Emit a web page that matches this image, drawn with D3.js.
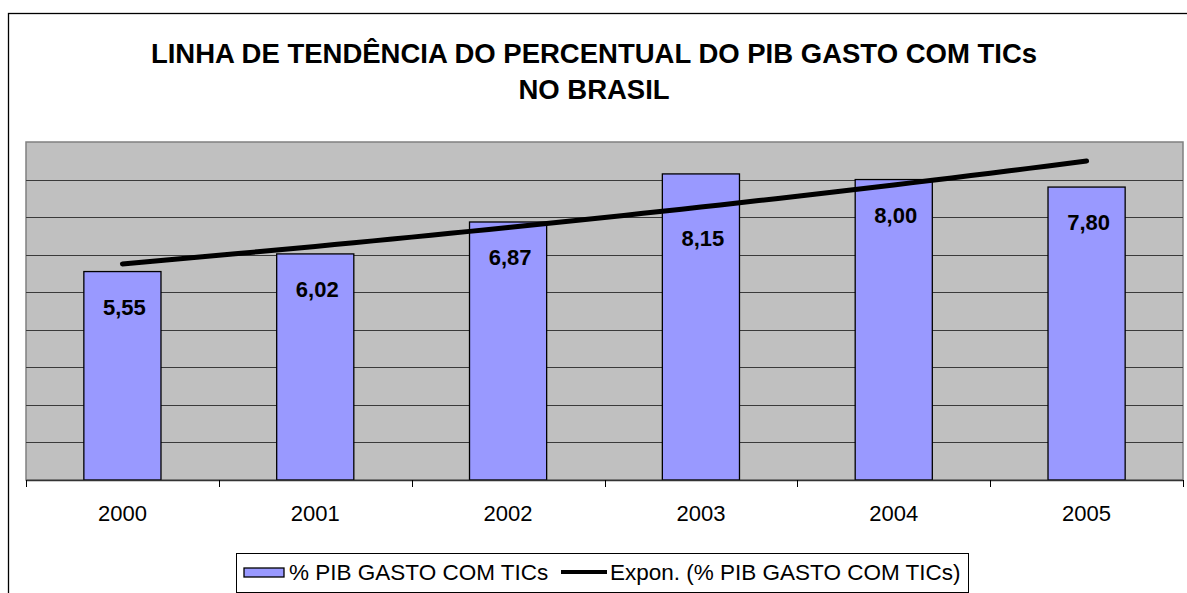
<!DOCTYPE html>
<html>
<head>
<meta charset="utf-8">
<script src="https://cdn.jsdelivr.net/npm/d3@7"></script>
<style>
  body { margin: 0; background: #fff; }
  svg { display: block; font-family: "Liberation Sans", Arial, sans-serif; }
</style>
</head>
<body>
<div id="chart"></div>
<script>
const years = ['2000', '2001', '2002', '2003', '2004', '2005'];
const values = [5.55, 6.02, 6.87, 8.15, 8.00, 7.80];
const valueLabels = ['5,55', '6,02', '6,87', '8,15', '8,00', '7,80'];
const titleLines = ['LINHA DE TENDÊNCIA DO PERCENTUAL DO PIB GASTO COM TICs', 'NO BRASIL'];
const seriesName = '% PIB GASTO COM TICs';
const trendName = 'Expon. (% PIB GASTO COM TICs)';

const width = 1187, height = 593;
const plot = { left: 26, top: 142, right: 1183, bottom: 480 };

const svg = d3.select('#chart').append('svg')
    .attr('width', width)
    .attr('height', height);

// outer chart border (runs off the right / bottom edge)
svg.append('rect')
    .attr('x', 8.5).attr('y', 13.5)
    .attr('width', 1200).attr('height', 700)
    .attr('fill', 'none')
    .attr('stroke', '#000')
    .attr('stroke-width', 1.3);

// titulo
svg.append('g').selectAll('text')
    .data(titleLines)
    .enter().append('text')
    .attr('x', 594)
    .attr('y', (d, i) => 63 + i * 36)
    .attr('text-anchor', 'middle')
    .style('font-weight', 'bold')
    .style('font-size', '27.5px')
    .text(d => d);

const x = d3.scaleBand()
    .domain(years)
    .range([plot.left, plot.right])
    .paddingInner(0.6)
    .paddingOuter(0.3);

const y = d3.scaleLinear()
    .domain([0, 9])
    .range([plot.bottom, plot.top]);

// area do grafico
svg.append('rect')
    .attr('x', plot.left).attr('y', plot.top)
    .attr('width', plot.right - plot.left)
    .attr('height', plot.bottom - plot.top)
    .attr('fill', '#c0c0c0')
    .attr('stroke', '#808080')
    .attr('stroke-width', 1.5);

svg.append('g')
    .selectAll('line')
    .data(y.ticks(9).filter(t => t > 0 && t < 9))
    .enter().append('line')
    .attr('x1', plot.left).attr('x2', plot.right)
    .attr('y1', d => Math.round(y(d)) + 0.5)
    .attr('y2', d => Math.round(y(d)) + 0.5)
    .attr('stroke', '#3a3a3a')
    .attr('stroke-width', 1);

// barras
svg.append('g')
    .selectAll('rect')
    .data(values)
    .enter().append('rect')
    .attr('x', (d, i) => x(years[i]))
    .attr('y', d => y(d))
    .attr('width', x.bandwidth())
    .attr('height', d => y(0) - y(d))
    .attr('fill', '#9999ff')
    .attr('stroke', '#000')
    .attr('stroke-width', 1.3);

// eixo x
const boundaries = d3.range(years.length + 1).map(i => plot.left + i * (plot.right - plot.left) / years.length);
svg.append('line')
    .attr('x1', plot.left).attr('x2', plot.right)
    .attr('y1', plot.bottom + 0.5).attr('y2', plot.bottom + 0.5)
    .attr('stroke', '#333').attr('stroke-width', 1.5);
svg.append('g')
    .selectAll('line')
    .data(boundaries)
    .enter().append('line')
    .attr('x1', d => Math.round(d) + 0.5).attr('x2', d => Math.round(d) + 0.5)
    .attr('y1', plot.bottom).attr('y2', plot.bottom + 7)
    .attr('stroke', '#000');
svg.append('g')
    .selectAll('text')
    .data(years)
    .enter().append('text')
    .attr('x', d => x(d) + x.bandwidth() / 2)
    .attr('y', 521)
    .attr('text-anchor', 'middle')
    .style('font-size', '22px')
    .text(d => d);

// linha de tendencia exponencial (ajuste por minimos quadrados em ln y)
const xs = values.map((d, i) => i + 1);
const lns = values.map(v => Math.log(v));
const mx = d3.mean(xs), ml = d3.mean(lns);
const b = d3.sum(xs, (v, i) => (v - mx) * (lns[i] - ml)) / d3.sum(xs, v => (v - mx) * (v - mx));
const a = Math.exp(ml - b * mx);
const xi = d3.scaleLinear().domain([1, years.length])
    .range([x(years[0]) + x.bandwidth() / 2, x(years[years.length - 1]) + x.bandwidth() / 2]);
const trend = d3.range(1, years.length + 0.001, 0.1).map(t => [xi(t), y(a * Math.exp(b * t))]);
svg.append('path')
    .datum(trend)
    .attr('d', d3.line())
    .attr('fill', 'none')
    .attr('stroke', '#000')
    .attr('stroke-width', 5)
    .attr('stroke-linecap', 'round');

// rotulos de dados
svg.append('g')
    .selectAll('text')
    .data(values)
    .enter().append('text')
    .attr('x', (d, i) => x(years[i]) + x.bandwidth() / 2 + 2)
    .attr('y', (d, i) => y(d) + (years[i] === '2003' ? 72 : 43))
    .attr('text-anchor', 'middle')
    .style('font-weight', 'bold')
    .style('font-size', '22px')
    .text((d, i) => valueLabels[i]);

// legenda
const legend = svg.append('g');
legend.append('rect')
    .attr('x', 236.5).attr('y', 553.5)
    .attr('width', 732).attr('height', 39)
    .attr('fill', '#fff')
    .attr('stroke', '#000');
legend.append('rect')
    .attr('x', 244).attr('y', 568)
    .attr('width', 40).attr('height', 9)
    .attr('fill', '#9999ff')
    .attr('stroke', '#000')
    .attr('stroke-width', 1.3);
legend.append('text')
    .attr('x', 289).attr('y', 580)
    .style('font-size', '22.5px')
    .text(seriesName);
legend.append('line')
    .attr('x1', 561).attr('x2', 607)
    .attr('y1', 572).attr('y2', 572)
    .attr('stroke', '#000')
    .attr('stroke-width', 4);
legend.append('text')
    .attr('x', 610).attr('y', 580)
    .style('font-size', '22.5px')
    .text(trendName);
</script>
</body>
</html>
